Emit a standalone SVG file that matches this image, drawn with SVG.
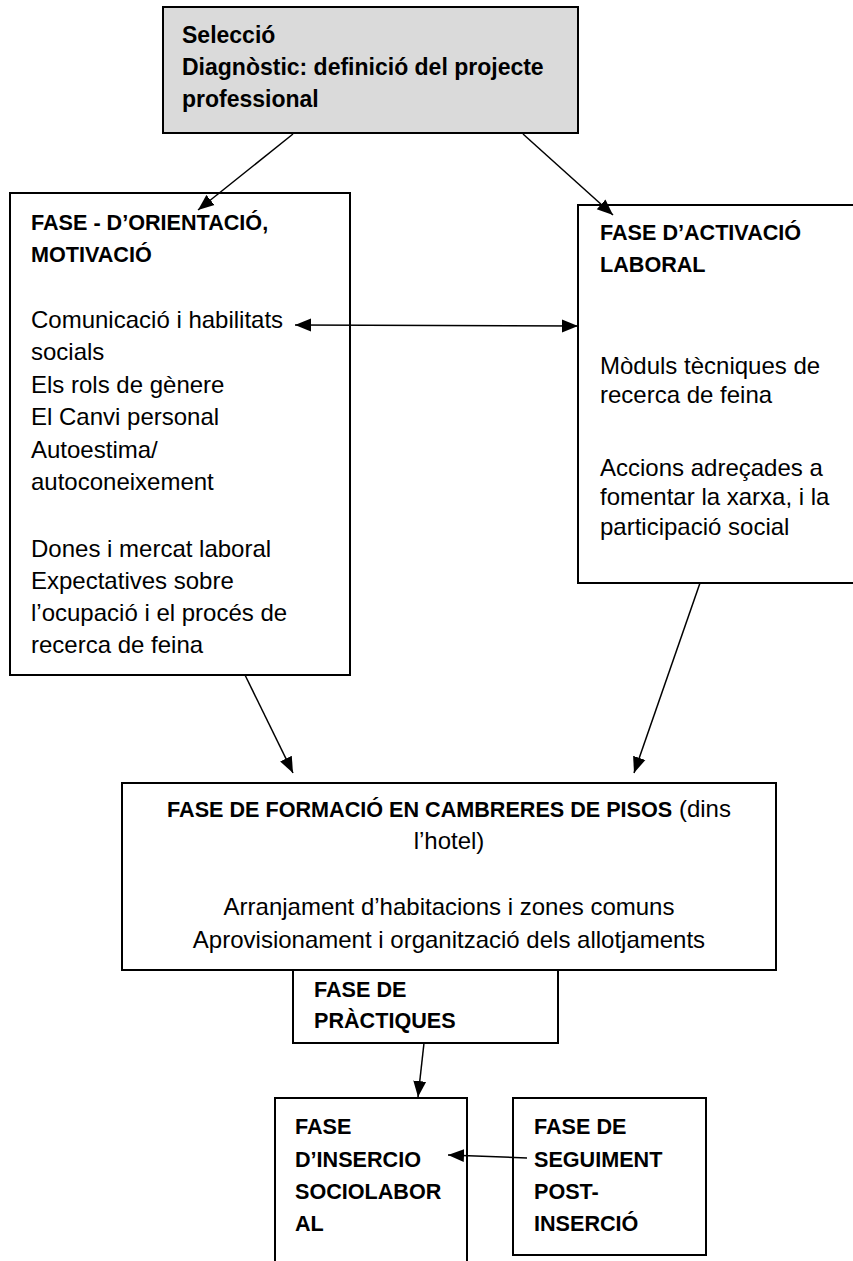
<svg xmlns="http://www.w3.org/2000/svg" width="853" height="1261" viewBox="0 0 853 1261">
<style>
.box{fill:#fff;stroke:#000;stroke-width:2}
.grey{fill:#dadada;stroke:#000;stroke-width:2}
.t{font-family:"Liberation Sans",Arial,sans-serif;fill:#000}
.r{font-size:24px}
.b{font-size:21.6px;font-weight:bold}
.bm{font-size:23px;font-weight:bold}
.c{stroke:#000;stroke-width:1.5;fill:none;marker-end:url(#ah)}
</style>
<defs>
<marker id="ah" markerUnits="userSpaceOnUse" markerWidth="17" markerHeight="14" viewBox="0 0 17 14" refX="16" refY="7" orient="auto-start-reverse">
<path d="M0,0.5 L16,7 L0,13.5 z" fill="#000"/>
</marker>
</defs>
<g id="seleccio">
<rect class="grey" x="163" y="7" width="415" height="126"/>
<text class="t bm" x="182" y="43">Selecció</text>
<text class="t bm" x="182" y="75">Diagnòstic: definició del projecte</text>
<text class="t bm" x="182" y="107">professional</text>
</g>
<g id="orientacio">
<rect class="box" x="10" y="193" width="340" height="482"/>
<text class="t b" x="31" y="230">FASE - D’ORIENTACIÓ,</text>
<text class="t b" x="31" y="262">MOTIVACIÓ</text>
<text class="t r" x="31" y="328">Comunicació i habilitats</text>
<text class="t r" x="31" y="360">socials</text>
<text class="t r" x="31" y="393">Els rols de gènere</text>
<text class="t r" x="31" y="425">El Canvi personal</text>
<text class="t r" x="31" y="458">Autoestima/</text>
<text class="t r" x="31" y="490">autoconeixement</text>
<text class="t r" x="31" y="557">Dones i mercat laboral</text>
<text class="t r" x="31" y="589">Expectatives sobre</text>
<text class="t r" x="31" y="621">l’ocupació i el procés de</text>
<text class="t r" x="31" y="653">recerca de feina</text>
</g>
<g id="activacio">
<rect class="box" x="578" y="205" width="280" height="378"/>
<text class="t b" x="600" y="240">FASE D’ACTIVACIÓ</text>
<text class="t b" x="600" y="272">LABORAL</text>
<text class="t r" x="600" y="374">Mòduls tècniques de</text>
<text class="t r" x="600" y="403">recerca de feina</text>
<text class="t r" x="600" y="476">Accions adreçades a</text>
<text class="t r" x="600" y="505">fomentar la xarxa, i la</text>
<text class="t r" x="600" y="535">participació social</text>
</g>
<g id="formacio">
<rect class="box" x="122" y="783" width="654" height="187"/>
<text class="t" x="449" y="817" text-anchor="middle"><tspan class="b">FASE DE FORMACIÓ EN CAMBRERES DE PISOS</tspan><tspan class="r"> (dins</tspan></text>
<text class="t r" x="449" y="849" text-anchor="middle">l’hotel)</text>
<text class="t r" x="449" y="915" text-anchor="middle">Arranjament d’habitacions i zones comuns</text>
<text class="t r" x="449" y="948" text-anchor="middle">Aprovisionament i organització dels allotjaments</text>
</g>
<g id="practiques">
<rect class="box" x="293" y="970" width="265" height="73"/>
<text class="t b" x="314" y="997">FASE DE</text>
<text class="t b" x="314" y="1028">PRÀCTIQUES</text>
</g>
<g id="insercio">
<rect class="box" x="275" y="1098" width="192" height="180"/>
<text class="t b" x="295" y="1134">FASE</text>
<text class="t b" x="295" y="1167">D’INSERCIO</text>
<text class="t b" x="295" y="1199">SOCIOLABOR</text>
<text class="t b" x="295" y="1231">AL</text>
</g>
<g id="seguiment">
<rect class="box" x="513" y="1098" width="193" height="157"/>
<text class="t b" x="534" y="1134">FASE DE</text>
<text class="t b" x="534" y="1167">SEGUIMENT</text>
<text class="t b" x="534" y="1199">POST-</text>
<text class="t b" x="534" y="1231">INSERCIÓ</text>
</g>
<g id="connectors">
<line class="c" x1="293" y1="134" x2="198" y2="210"/>
<line class="c" x1="523" y1="134" x2="613" y2="215"/>
<line class="c" x1="295" y1="325" x2="578" y2="326" style="marker-start:url(#ah)"/>
<line class="c" x1="245" y1="675" x2="293" y2="773"/>
<line class="c" x1="700" y1="583" x2="634" y2="773"/>
<line class="c" x1="424" y1="1043" x2="418" y2="1097"/>
<line class="c" x1="527" y1="1158" x2="448" y2="1155"/>
</g>
</svg>
